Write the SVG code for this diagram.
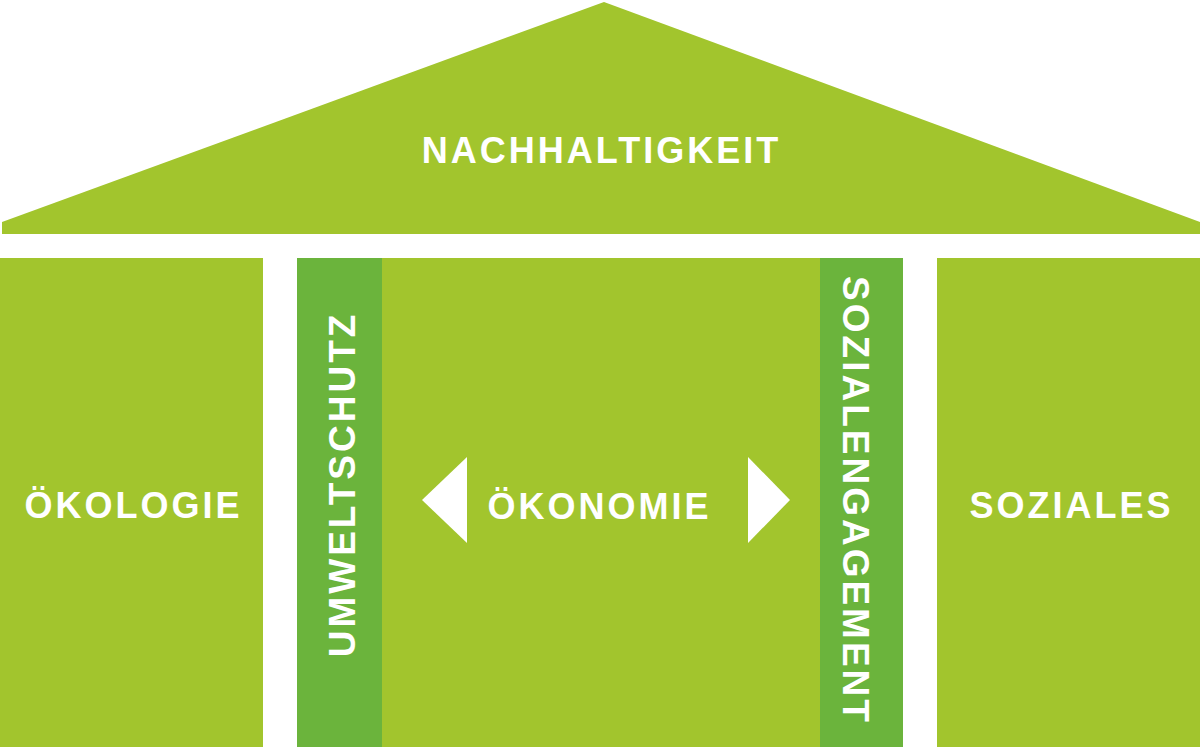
<svg xmlns="http://www.w3.org/2000/svg" width="1200" height="747" viewBox="0 0 1200 747">
<style>
.light{fill:#a2c52d}
.dark{fill:#6bb43c}
.lbl{fill:#ffffff;font-family:"Liberation Sans",Arial,sans-serif;font-weight:bold;font-size:36px;letter-spacing:3px;text-anchor:middle}
.vlbl{font-size:37px}
.arrow{fill:#ffffff}
</style>
<rect width="1200" height="747" fill="#ffffff"/>
<g id="roof">
<polygon class="light" points="604,2 1200,222 1200,234 2,234 2,222"/>
<text class="lbl" x="601.5" y="163">NACHHALTIGKEIT</text>
</g>
<g id="oekologie">
<rect class="light" x="0" y="258" width="263" height="489"/>
<text class="lbl" x="133.5" y="518">ÖKOLOGIE</text>
</g>
<g id="oekonomie">
<rect class="light" x="297" y="258" width="606" height="489"/>
<text class="lbl" x="599.5" y="519">ÖKONOMIE</text>
</g>
<g id="umweltschutz">
<rect class="dark" x="297" y="258" width="85" height="489"/>
<text class="lbl vlbl" transform="translate(355,486) rotate(-90)" x="1.5" y="0">UMWELTSCHUTZ</text>
</g>
<g id="sozialengagement">
<rect class="dark" x="820" y="258" width="83" height="489"/>
<text class="lbl vlbl" transform="translate(843,499) rotate(90)" x="1.5" y="0">SOZIALENGAGEMENT</text>
</g>
<g id="soziales">
<rect class="light" x="937" y="258" width="263" height="489"/>
<text class="lbl" x="1071.5" y="518">SOZIALES</text>
</g>
<g id="connectors">
<polygon class="arrow" points="422,500 467,457 467,543"/>
<polygon class="arrow" points="748,457 790,500 748,543"/>
</g>
</svg>
